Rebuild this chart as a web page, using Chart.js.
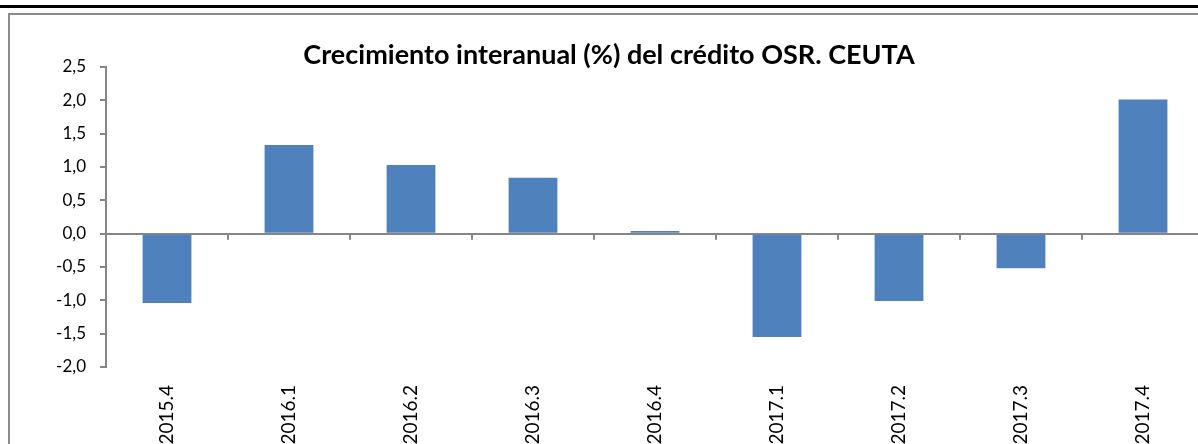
<!DOCTYPE html>
<html>
<head>
<meta charset="utf-8">
<script src="https://cdn.jsdelivr.net/npm/chart.js@4"></script>
<style>
  html, body { margin: 0; padding: 0; background: #fff; overflow: hidden; }
  .wrap { position: relative; width: 1198px; height: 444px; overflow: hidden; }
  .topline { position: absolute; left: 0; top: 5px; width: 1198px; height: 3px; background: #000; }
  .frame { position: absolute; left: 8px; top: 13px; width: 1200px; height: 440px;
           border-left: 2px solid #8c8c8c; border-top: 2px solid #8c8c8c; }
  canvas { position: absolute; left: 0; top: 0; }
</style>
</head>
<body>
<div class="wrap">
  <div class="topline"></div>
  <div class="frame"></div>
  <canvas id="chart" width="1206" height="444"></canvas>
</div>
<script>
// quarters
const periods = ['2015.4', '2016.1', '2016.2', '2016.3', '2016.4', '2017.1', '2017.2', '2017.3', '2017.4'];
// interannual growth (%)
const growth = [-1.04, 1.33, 1.03, 0.84, 0.04, -1.55, -1.01, -0.52, 2.01];
const titleText = 'Crecimiento interanual (%) del crédito OSR. CEUTA';
const axisGray = '#868686';

// little marks on the zero line between categories
const zeroTicks = {
  id: 'zeroTicks',
  afterDatasetsDraw(chart) {
    const x = chart.scales.x, y = chart.scales.y;
    const y0 = y.getPixelForValue(0);
    const ctx = chart.ctx;
    ctx.save();
    ctx.strokeStyle = axisGray;
    ctx.lineWidth = 2;
    for (let i = 1; i < periods.length; i++) {
      const bx = (x.getPixelForTick(i - 1) + x.getPixelForTick(i)) / 2;
      ctx.beginPath();
      ctx.moveTo(bx, y0);
      ctx.lineTo(bx, y0 + 6);
      ctx.stroke();
    }
    ctx.restore();
  }
};

new Chart(document.getElementById('chart'), {
  type: 'bar',
  data: {
    labels: periods,
    datasets: [{
      data: growth,
      backgroundColor: '#4F81BD',
      borderWidth: 0,
      barPercentage: 0.4,
      categoryPercentage: 1.0,
    }],
  },
  options: {
    responsive: false,
    animation: false,
    layout: { padding: { left: 14, right: 2, top: 0, bottom: 0 } },
    plugins: {
      legend: { display: false },
      tooltip: { enabled: false },
      title: {
        display: true,
        text: titleText,
        color: '#000',
        font: { family: 'Lato', size: 27, weight: 'bold', lineHeight: 0.85 },
        padding: { top: 44, bottom: 0 },
      },
    },
    scales: {
      x: {
        grid: { display: false },
        border: { display: false },
        ticks: {
          color: '#000',
          font: { family: 'Lato', size: 19 },
          minRotation: 90,
          maxRotation: 90,
          padding: 10,
        },
        afterFit(scale) { scale.height = 77; },
      },
      y: {
        min: -2,
        max: 2.5,
        border: { display: true, color: axisGray, width: 2 },
        grid: {
          drawOnChartArea: true,
          color: ctx => (ctx.tick && ctx.tick.value === 0 ? axisGray : 'rgba(0,0,0,0)'),
          lineWidth: 2,
          tickColor: axisGray,
          tickLength: 6,
        },
        ticks: {
          stepSize: 0.5,
          color: '#000',
          font: { family: 'Lato', size: 17 },
          padding: 14,
          callback: v => v.toFixed(1).replace('.', ','),
        },
        afterFit(scale) { scale.width = 92; },
      },
    },
  },
  plugins: [zeroTicks],
});
</script>
</body>
</html>
